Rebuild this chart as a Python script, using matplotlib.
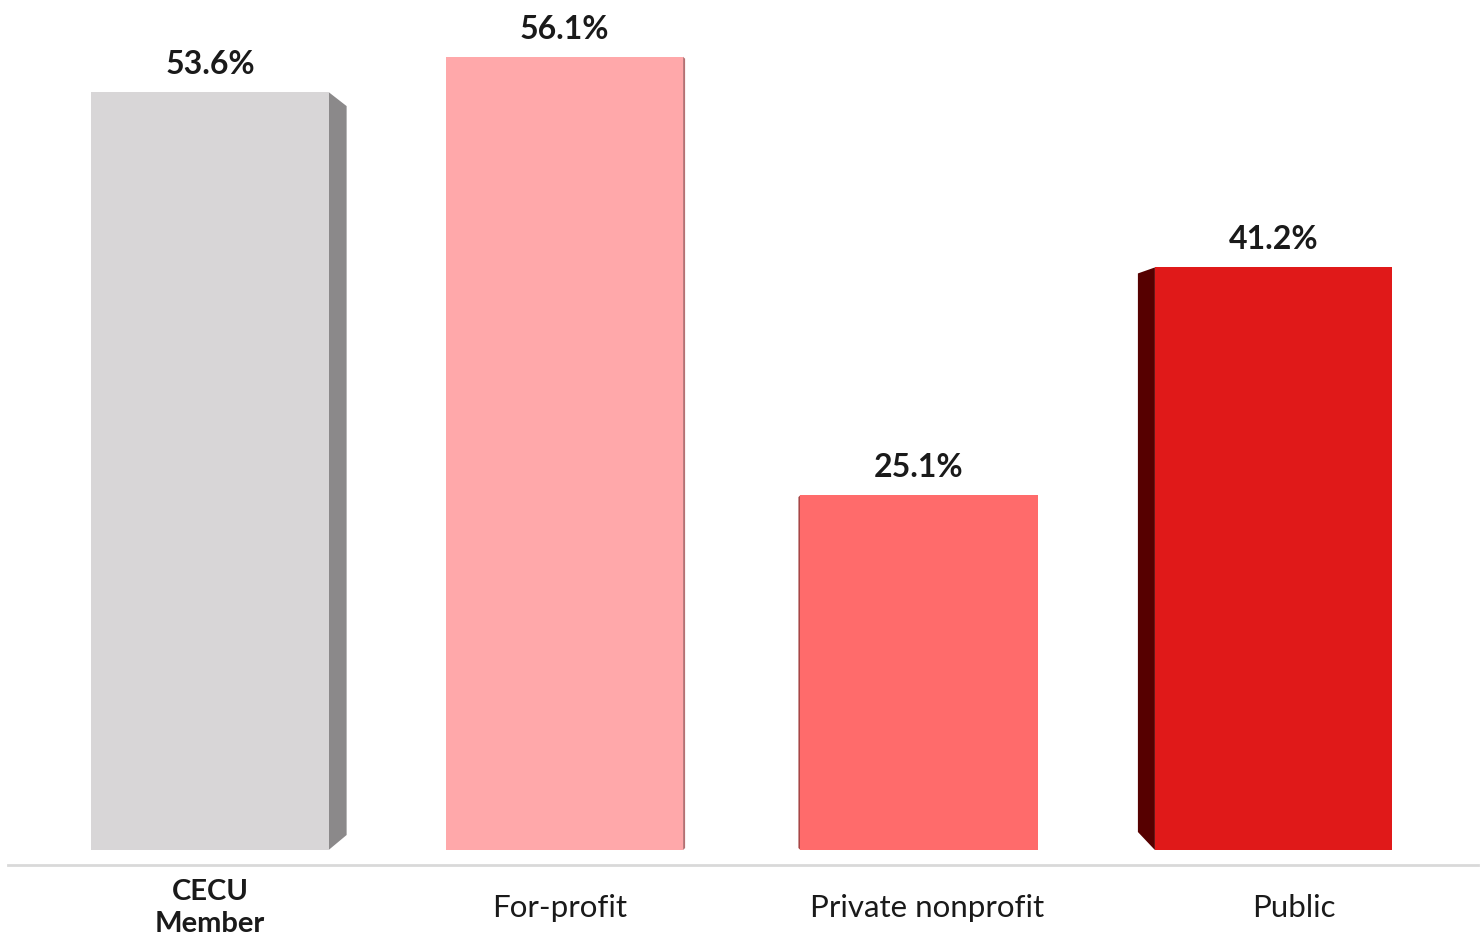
import matplotlib.pyplot as plt
import matplotlib as mpl
from matplotlib.patches import Polygon
from matplotlib.transforms import ScaledTranslation
import numpy as np

mpl.rcParams['font.family'] = ['Lato', 'DejaVu Sans']

# data
categories = ['CECU\nMember', 'For-profit', 'Private nonprofit', 'Public']
values = [53.6, 56.1, 25.1, 41.2]
value_labels = ['53.6%', '56.1%', '25.1%', '41.2%']

# colours: front face, side face
front_colors = ['#d8d6d7', '#ffa8aa', '#ff6b6b', '#e01919']
side_colors = ['#8b898a', '#b57072', '#a84646', '#560000']
# side depth in px (negative = left side), top / bottom vertical shift in px
side_dx = [18, 2, -2, -17]
side_dy_top = [14, 2, 2, 6]
side_dy_bot = [15, 2, 2, 18]

fig = plt.figure(figsize=(14.8, 9.38), dpi=100)
ax = fig.add_axes([8 / 1480, 73 / 938, 1470 / 1480, 865 / 938])

x = np.arange(len(categories))
bar_width = 0.669
px_x = 1 / 354.5      # data units per pixel in x
px_y = 1 / 14.14      # data units per pixel in y

ax.set_xlim(-0.570, 3.577)
ax.set_ylim(-15 * px_y, 850 * px_y)

bars = ax.bar(x, values, bar_width, color=front_colors, zorder=3)

# pseudo-3D side faces
for i, b in enumerate(bars):
    v = values[i]
    dx = side_dx[i] * px_x
    edge = b.get_x() + b.get_width() if dx > 0 else b.get_x()
    pts = [(edge, v), (edge + dx, v - side_dy_top[i] * px_y),
           (edge + dx, side_dy_bot[i] * px_y), (edge, 0)]
    ax.add_patch(Polygon(pts, closed=True, facecolor=side_colors[i],
                         edgecolor='none', zorder=2))

# value labels
for i, b in enumerate(bars):
    ax.text(b.get_x() + b.get_width() / 2, values[i] + 13 * px_y, value_labels[i],
            ha='center', va='bottom', fontsize=23, fontweight='bold', color='#1a1a1a')

# axis styling
for s in ['top', 'right', 'left']:
    ax.spines[s].set_visible(False)
ax.spines['bottom'].set_color('#d9d9d9')
ax.spines['bottom'].set_linewidth(2)
ax.set_yticks([])
ax.set_xticks(x)
ax.set_xticklabels(categories, fontsize=22.5, color='#1a1a1a', linespacing=1.1)
ax.tick_params(axis='x', length=0, pad=31)

label_shift = [0, -5, 8, 20]
for i, lbl in enumerate(ax.get_xticklabels()):
    lbl.set_va('center')
    if i == 0:
        lbl.set_fontweight('bold')
        lbl.set_fontsize(21)
        lbl.set_linespacing(1.25)
    lbl.set_transform(lbl.get_transform() +
                      ScaledTranslation(label_shift[i] / 100, 0, fig.dpi_scale_trans))

fig.savefig('out.png', dpi=100, facecolor='white')
